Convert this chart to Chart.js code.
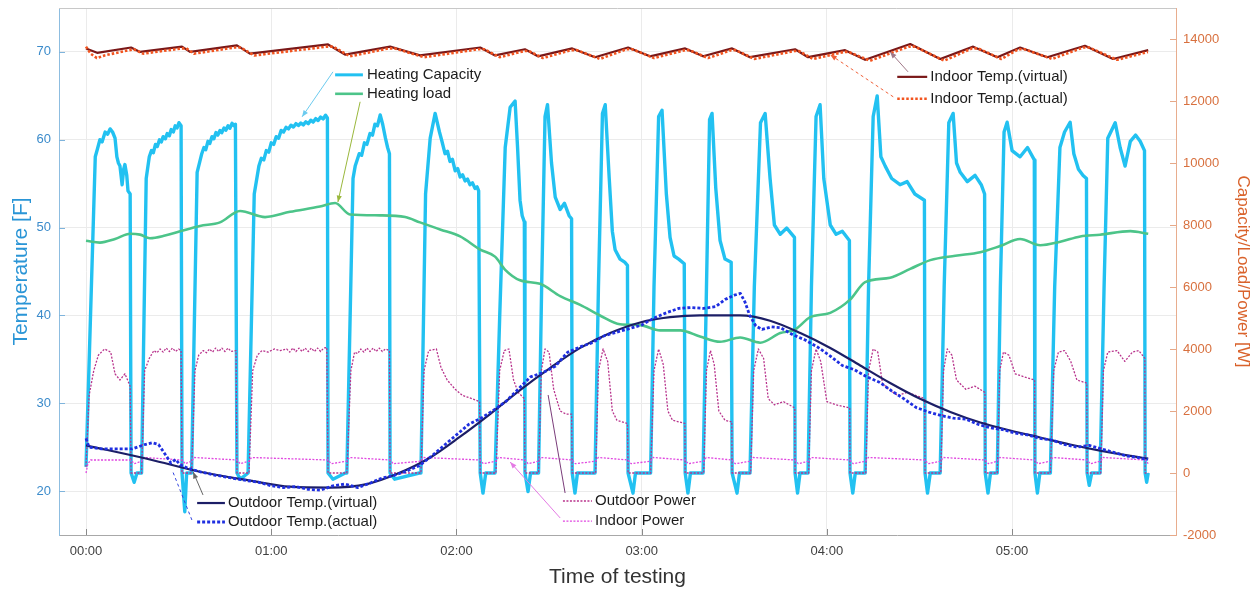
<!DOCTYPE html>
<html>
<head>
<meta charset="utf-8">
<script src="https://cdn.jsdelivr.net/npm/chart.js@4.4.1/dist/chart.umd.min.js"></script>
<style>
html,body{margin:0;padding:0;background:#fff;}
canvas{display:block;}
</style>
</head>
<body>
<canvas id="c" width="1256" height="592" style="width:1256px;height:592px"></canvas>
<script>
// ---------------- DATA (time in minutes from 00:00) ----------------
const timeTicks = [0, 60, 120, 180, 240, 300];
const timeLabels = ['00:00', '01:00', '02:00', '03:00', '04:00', '05:00'];
const tempTicks = [20, 30, 40, 50, 60, 70];
const powerTicks = [-2000, 0, 2000, 4000, 6000, 8000, 10000, 12000, 14000];

// Heating Capacity [W]
const heatingCapacity = [
 [0,200],[3.0,10200],[3.7,10450],[4.5,10750],[5.2,10680],[6.2,11000],[7.0,10930],[7.8,11100],[8.6,11000],[9.4,10800],[10.0,10200],[10.5,10000],[11.0,9900],[11.7,9300],[12.2,9800],[12.6,9950],[13.2,9600],[13.6,9100],[14.3,9000],[14.6,0],[15.6,-300],[16.5,0],[17.5,0],
 [18.0,0],[19.5,9500],[20.5,10200],[21.2,10400],[21.8,10330],[22.5,10600],[23.1,10530],[23.8,10750],[24.4,10680],[25.0,10850],[25.7,10780],[26.3,10950],[27.0,10880],[27.6,11080],[28.3,11000],[28.9,11200],[29.5,11130],[30.1,11300],[30.8,11200],[31.1,0],[32.0,-1250],[32.6,0],[33.7,0],
 [34.2,0],[36.0,9700],[37.5,10300],[38.2,10500],[38.8,10430],[39.5,10700],[40.1,10630],[40.8,10850],[41.4,10780],[42.1,10980],[42.7,10900],[43.4,11050],[44.0,10980],[44.7,11130],[45.3,11060],[46.0,11200],[46.6,11120],[47.3,11280],[47.9,11200],[48.4,11250],[48.9,0],[50.0,-200],[52.5,0],
 [52.8,0],[54.5,9000],[56.0,9900],[56.8,10150],[57.6,10100],[58.4,10400],[59.2,10350],[60.0,10650],[60.8,10600],[61.6,10850],[62.4,10800],[63.2,11050],[64.0,11000],[64.8,11150],[65.6,11100],[66.4,11220],[67.2,11160],[68.0,11270],[68.8,11210],[69.6,11290],[70.4,11230],[71.2,11330],[72.0,11270],[72.8,11380],[73.6,11320],[74.4,11430],[75.2,11370],[76.0,11480],[76.8,11420],[77.6,11540],[78.2,11450],[78.4,0],[80.0,-200],[84.0,0],
 [84.5,0],[86.5,9500],[87.2,9900],[88.5,10300],[89.3,10250],[90.2,10650],[91.0,10600],[92.0,10950],[92.8,10900],[93.6,11250],[94.4,11200],[95.3,11550],[96.1,11250],[97.0,10800],[97.7,10500],[98.3,10300],[98.5,0],[100.0,-200],[108.0,0],
 [108.5,0],[110.0,9000],[111.5,10800],[113.1,11600],[114.5,11000],[115.3,10700],[116.3,10300],[117.1,10380],[117.9,10050],[118.7,10120],[119.6,9750],[120.4,9820],[121.2,9550],[122.0,9620],[122.8,9420],[123.6,9480],[124.4,9300],[125.2,9360],[126.0,9180],[126.7,9230],[127.2,9100],[127.7,0],[128.6,-650],[129.5,0],[132.5,0],
 [132.8,0],[134.0,5000],[135.8,10500],[137.4,11800],[139.0,12000],[139.8,10500],[140.6,8800],[141.3,8300],[142.0,8100],[142.2,0],[143.2,-600],[144.0,0],[146.4,0],
 [146.6,0],[147.6,6000],[148.7,11500],[149.5,11880],[150.8,10000],[152.0,8900],[153.6,8500],[155.0,8700],[156.5,8300],[157.3,8200],[157.5,0],[158.4,-650],[159.2,0],[164.9,0],
 [165.1,0],[166.0,6000],[167.3,11600],[168.2,11880],[169.5,9500],[170.5,7800],[171.4,7200],[173.0,6900],[174.5,6800],[175.4,6700],[175.6,0],[177.2,-650],[178.0,0],[182.7,0],
 [182.9,0],[184.0,6000],[185.5,11500],[186.6,11700],[188.0,9000],[189.2,7600],[190.5,7000],[192.0,6900],[193.8,6750],[194.1,0],[195.0,-650],[195.8,0],[199.9,0],
 [200.1,0],[201.0,6000],[202.0,11400],[202.8,11600],[204.0,9200],[205.4,7500],[207.0,6900],[209.0,6800],[209.3,0],[210.9,-650],[211.7,0],[215.1,0],
 [215.3,0],[216.5,6000],[218.5,11300],[220.0,11600],[221.6,9500],[223.0,8000],[224.9,7700],[227.0,7900],[229.5,7600],[229.7,0],[230.5,-650],[231.3,0],[233.9,0],
 [234.1,0],[235.0,6000],[236.5,11500],[237.8,11880],[239.0,9500],[241.1,8000],[243.0,7700],[245.0,7800],[247.3,7500],[247.5,0],[248.4,-650],[249.2,0],[252.4,0],
 [252.6,0],[253.5,6000],[255.0,11500],[256.3,12165],[257.5,10200],[258.9,9900],[261.0,9500],[263.7,9300],[266.0,9400],[268.5,9000],[271.6,8800],[271.8,0],[272.6,-650],[273.5,0],[276.7,0],
 [276.9,0],[278.0,6000],[279.5,11300],[280.9,11600],[282.0,10000],[283.2,9700],[285.5,9400],[288.0,9600],[290.0,9300],[291.1,9000],[291.3,0],[292.2,-650],[293.0,0],[295.0,0],
 [295.2,0],[296.2,6000],[297.4,11000],[298.4,11315],[300.0,10400],[302.6,10200],[305.0,10500],[307.2,10100],[307.4,0],[308.2,-650],[309.0,0],[312.2,0],
 [312.4,0],[313.8,6000],[315.5,10500],[317.0,11000],[318.8,11315],[320.0,10300],[321.5,9800],[323.0,9600],[324.1,9500],[324.3,0],[325.0,-400],[325.8,0],[328.5,0],
 [328.7,0],[329.8,6000],[331.0,10800],[333.4,11300],[335.0,10500],[336.6,9900],[338.3,10700],[340.0,10900],[341.5,10700],[342.9,10400],[343.1,0],[343.6,-300],[344.1,0]
];

// Heating load [W]
const heatingLoad = [
 [0,7490],[4.5,7433],[9.4,7547],[14.3,7717],[17.5,7690],[20.7,7575],[25.6,7660],[30.5,7800],[36.9,7970],[43.4,8085],
 [49.9,8453],[58.0,8255],[66.1,8425],[75.8,8595],[80.7,8708],[85.5,8340],[95.3,8312],[103.4,8255],[108.2,8085],[114.7,7858],
 [121.2,7632],[127.7,7207],[132.5,6980],[135.8,6555],[140.6,6215],[147.1,6102],[153.6,5705],[160.1,5422],[166.5,5082],[173.0,4799],
 [179.5,4770],[186.0,4600],[192.5,4600],[198.9,4402],[205.4,4232],[211.9,4373],[218.4,4204],[224.9,4515],[229.7,4629],[234.6,5026],
 [241.1,5167],[247.5,5592],[252.4,6159],[260.5,6300],[267.0,6583],[273.5,6867],[281.6,7008],[289.7,7122],[296.1,7320],[302.6,7547],
 [309.1,7348],[315.6,7462],[322.1,7632],[328.5,7688],[338.3,7802],[344.1,7717]
];

// Indoor Temp. [F]
const indoorVirtual = [
 [0,70.4],[3.6,69.9],[14.6,70.5],[17.5,70.0],[31.1,70.6],[33.7,70.0],[48.9,70.75],[53.1,69.8],[78.4,70.85],[83.9,69.7],
 [98.5,70.6],[108.2,69.6],[127.7,70.5],[132.5,69.6],[142.2,70.3],[146.4,69.5],[157.5,70.4],[164.9,69.4],[175.6,70.5],[182.7,69.5],
 [194.1,70.4],[199.9,69.5],[209.3,70.4],[215.1,69.4],[229.7,70.3],[233.9,69.4],[245.9,70.2],[252.4,69.1],[267.0,70.9],[276.7,69.2],
 [287.4,70.6],[295.2,69.4],[302.6,70.5],[311.4,69.4],[323.6,70.7],[332.7,69.2],[344.1,70.2]
];
const indoorActual = [
 [0,70.6],[1.5,69.8],[3.5,69.3],[6,69.6],[14,70.2],[15.5,70.3],[18.5,69.8],[31,70.4],[32.5,70.4],[35,69.8],
 [48,70.5],[50,70.5],[54.5,69.6],[78,70.6],[80,70.6],[85.5,69.5],[98,70.4],[100,70.4],[109.5,69.4],[127,70.3],
 [129,70.3],[134,69.4],[142,70.1],[143.5,70.1],[148,69.3],[157,70.2],[159,70.2],[166.5,69.2],[175,70.3],[177,70.3],
 [184,69.3],[194,70.2],[195.5,70.2],[201.5,69.3],[209,70.2],[210.5,70.2],[216.5,69.2],[229.5,70.1],[231,70.1],[235.5,69.2],
 [245.5,70.0],[247,70.0],[254,69.0],[266.5,70.6],[268.5,70.6],[278,69.0],[287,70.4],[289,70.4],[296.5,69.2],[302,70.3],
 [304,70.3],[313,69.2],[323,70.5],[325,70.5],[334,69.1],[344,70.0]
];

// Outdoor Temp. [F]
const outdoorVirtual = [
 [0,25.2],[20.7,23.6],[36.9,22.2],[53.1,21.2],[66.1,20.5],[79.0,20.4],[91.0,20.8],[101.0,22.0],[111.4,23.8],[121.2,26.2],
 [131.0,28.8],[140.6,31.5],[150.3,34.0],[160.1,36.3],[169.8,38.0],[179.5,39.2],[189.2,39.8],[198.9,40.0],[211.9,40.0],[221.6,39.4],
 [231.4,38.0],[241.1,36.3],[250.8,34.3],[260.5,32.3],[270.2,30.5],[280.0,29.0],[289.7,27.8],[299.4,26.9],[309.1,26.1],[318.8,25.3],
 [328.5,24.6],[338.3,24.0],[344.1,23.7]
];
const outdoorActual = [
 [0,26.0],[1,25.0],[5,24.8],[15,24.8],[19,25.3],[21.5,25.5],[23.5,25.3],[26,24.0],[27.5,23.2],[29,23.6],
 [30.5,23.0],[33,22.6],[37,22.2],[42,21.8],[47,21.5],[52,21.2],[56,21.0],[60,20.6],[64,20.4],[68,20.5],
 [72,20.2],[76,20.1],[80,20.6],[84,20.8],[88,20.4],[92,20.9],[96,21.5],[100,21.8],[104,22.3],[108,22.9],
 [112,24.0],[116,25.2],[120,26.4],[124,27.6],[128,28.3],[132,29.2],[136,30.2],[140,31.6],[144,33.0],[148,33.5],
 [152,34.2],[156,35.8],[160,36.4],[164,36.9],[168,37.7],[172,38.1],[176,38.5],[180,38.9],[184,39.7],[188,40.3],
 [192,40.8],[196,40.9],[200,40.8],[204,41.0],[207,41.8],[210,42.3],[212,42.5],[213.5,41.5],[215,40.0],[217,38.8],
 [219,38.4],[222,38.7],[225,38.6],[229,37.8],[233,37.2],[237,36.4],[241,35.4],[245,34.3],[249,33.8],[253,33.0],
 [257,32.4],[261,31.4],[265,30.5],[269,29.5],[273,29.0],[277,28.6],[281,28.3],[285,28.2],[289,27.6],[293,27.2],
 [297,27.0],[301,26.6],[305,26.4],[309,26.0],[313,25.8],[317,25.3],[321,25.0],[325,25.2],[329,24.8],[333,24.4],
 [337,24.0],[341,23.8],[344,23.6]
];

// Outdoor Power [W]
const outdoorPower = [
 [0,200],[1.0,2500],[2.5,3300],[4.0,3800],[6.0,4000],[8.0,3900],[9.4,3200],[11.0,3000],[12.6,3200],[14.3,2800],[14.6,0],[17.5,0],
 [18.0,0],[19.0,3300],[20.5,3700],[22.0,3950],[23.0,3880],[24.0,4000],[25.0,3900],[26.0,4030],[27.0,3920],[28.0,4030],[29.0,3920],[30.0,4000],[30.8,3950],[31.1,0],[33.7,0],
 [34.2,0],[35.3,3300],[36.5,3800],[38.0,3950],[39.0,3880],[40.0,4000],[41.0,3900],[42.0,4030],[43.0,3920],[44.0,4030],[45.0,3920],[46.0,4030],[47.0,3920],[48.6,3950],[48.9,0],[52.5,0],
 [52.8,0],[54.0,3300],[55.5,3800],[57.0,3950],[59.0,3900],[61.0,4000],[63.0,3950],[65.0,4000],[66.0,3900],[67.0,4030],[68.0,3920],[69.0,4030],[70.0,3920],[71.0,4030],[72.0,3920],[73.0,4030],[74.0,3920],[75.0,4030],[76.0,3920],[77.0,4030],[78.0,4050],[78.4,0],[84.0,0],
 [84.5,0],[85.8,3300],[87.0,3900],[88.0,3850],[89.0,4000],[90.0,3900],[91.0,4030],[92.0,3920],[93.0,4030],[94.0,3920],[95.0,4030],[96.0,3920],[97.0,4000],[98.3,3950],[98.5,0],[108.0,0],
 [108.5,0],[109.5,3300],[111.0,3950],[113.5,4000],[115.0,3400],[117.0,3000],[119.6,2700],[122.0,2500],[125.0,2400],[127.5,2300],[127.7,0],[132.5,0],
 [132.8,0],[134.0,3300],[135.5,3950],[137.0,4000],[138.5,3000],[140.0,2600],[142.0,2400],[142.2,0],[146.4,0],
 [146.6,0],[147.5,3300],[148.7,4000],[150.0,3900],[151.5,2700],[153.6,2000],[155.5,1900],[157.3,1900],[157.5,0],[164.9,0],
 [165.1,0],[166.0,3300],[167.5,4000],[169.0,3600],[170.5,2000],[172.0,1700],[175.4,1600],[175.6,0],[182.7,0],
 [182.9,0],[184.0,3300],[185.5,4000],[187.0,3500],[188.5,2000],[190.0,1700],[194.0,1600],[194.1,0],[199.9,0],
 [200.1,0],[201.0,3300],[202.3,3950],[203.5,3500],[205.0,2000],[207.0,1700],[209.2,1650],[209.3,0],[215.1,0],
 [215.3,0],[216.3,3300],[217.8,4000],[219.5,3700],[221.0,2400],[223.0,2200],[226.0,2300],[229.6,2100],[229.7,0],[233.9,0],
 [234.1,0],[235.0,3300],[236.5,4000],[238.0,3600],[240.0,2300],[243.0,2200],[247.4,2100],[247.5,0],[252.4,0],
 [252.6,0],[253.5,3300],[255.0,4000],[256.5,3900],[258.0,2900],[260.0,2700],[263.0,2500],[266.0,2600],[271.7,2400],[271.8,0],[276.7,0],
 [276.9,0],[277.8,3300],[279.0,4000],[280.5,3800],[282.0,3000],[285.0,2700],[288.0,2800],[291.2,2600],[291.3,0],[295.0,0],
 [295.2,0],[296.0,3300],[297.2,3900],[299.0,3800],[301.0,3200],[304.0,3100],[307.3,3000],[307.4,0],[312.2,0],
 [312.4,0],[313.5,3300],[315.0,3900],[317.0,3950],[319.0,3600],[321.0,3000],[324.2,2900],[324.3,0],[328.5,0],
 [328.7,0],[329.6,3300],[331.0,3900],[334.0,3950],[336.5,3600],[339.0,3900],[341.0,3950],[343.0,3700],[343.1,0],[344.1,0]
];

// Indoor Power [W]
const indoorPower = [
 [0,0],[0.6,300],[1.5,420],
 [14.6,420],[15.6,300],[18.0,380],[18.8,500],[31.1,420],[32.1,300],[34.2,380],[35.0,500],
 [48.9,420],[49.9,300],[52.8,380],[53.6,500],[78.4,420],[79.4,300],[84.5,380],[85.3,500],
 [98.5,420],[99.5,300],[108.5,380],[109.3,500],[127.7,420],[128.7,300],[132.8,380],[133.6,500],
 [142.2,420],[143.2,300],[146.6,380],[147.4,500],[157.5,420],[158.5,300],[165.1,380],[165.9,500],
 [175.6,420],[176.6,300],[182.9,380],[183.7,500],[194.1,420],[195.1,300],[200.1,380],[200.9,500],
 [209.3,420],[210.3,300],[215.3,380],[216.1,500],[229.7,420],[230.7,300],[234.1,380],[234.9,500],
 [247.5,420],[248.5,300],[252.6,380],[253.4,500],[271.8,420],[272.8,300],[276.9,380],[277.7,500],
 [291.3,420],[292.3,300],[295.2,380],[296.0,500],[307.4,420],[308.4,300],[312.4,380],[313.2,500],
 [324.3,420],[325.3,300],[328.7,380],[329.5,500],[343.1,420],[344.1,300]
];

// ---------------- annotation layout (data coords: minutes, left axis F) ----------------
const legendNotes = [
  {text:'Heating Capacity', ds:7, t0:80.7, t1:89.7, tt:91.0, f:67.39},
  {text:'Heating load', ds:6, t0:80.7, t1:89.7, tt:91.0, f:65.23},
  {text:'Indoor Temp.(virtual)', ds:1, t0:262.8, t1:272.5, tt:273.5, f:67.16},
  {text:'Indoor Temp.(actual)', ds:0, t0:262.8, t1:272.5, tt:273.5, f:64.66},
  {text:'Outdoor Temp.(virtual)', ds:3, t0:36.0, t1:45.0, tt:46.0, f:18.64},
  {text:'Outdoor Temp.(actual)', ds:2, t0:36.0, t1:45.0, tt:46.0, f:16.48},
  {text:'Outdoor Power', ds:5, t0:154.5, t1:163.9, tt:164.9, f:18.87},
  {text:'Indoor Power', ds:4, t0:154.5, t1:163.9, tt:164.9, f:16.59}
];
const arrowNotes = [
  {from:[80.0,67.73], to:[70.0,62.61], color:'#6ccbef', dash:[], head:true},
  {from:[88.8,64.32], to:[81.6,52.9], color:'#9ab83c', dash:[], head:true},
  {from:[266.3,67.73], to:[260.5,70.0], color:'#a07888', dash:[], head:true},
  {from:[261.5,64.89], to:[241.1,69.67], color:'#f06038', dash:[3,3], head:true},
  {from:[37.9,19.56], to:[34.7,22.18], color:'#666666', dash:[], head:true},
  {from:[34.3,16.71], to:[27.9,22.4], color:'#3344e0', dash:[3,3], head:false},
  {from:[155.2,19.78], to:[149.7,30.94], color:'#7a3c7a', dash:[], head:false},
  {from:[153.6,16.94], to:[137.4,23.31], color:'#e47ae4', dash:[], head:true}
];

// ---------------- chart ----------------
const FONT = "'Liberation Sans', Arial, Helvetica, sans-serif";
Chart.defaults.font.family = FONT;

const toXY = arr => arr.map(p => ({x: p[0], y: p[1]}));

const datasets = [
  {label:'Indoor Temp.(actual)', data:toXY(indoorActual), yAxisID:'y', borderColor:'#f2541f', borderWidth:2.6, borderDash:[2.5,2]},
  {label:'Indoor Temp.(virtual)', data:toXY(indoorVirtual), yAxisID:'y', borderColor:'#7a1818', borderWidth:2.2, borderDash:[]},
  {label:'Outdoor Temp.(actual)', data:toXY(outdoorActual), yAxisID:'y', borderColor:'#1f2fe0', borderWidth:2.8, borderDash:[3,2]},
  {label:'Outdoor Temp.(virtual)', data:toXY(outdoorVirtual), yAxisID:'y', borderColor:'#1c1e66', borderWidth:2.2, borderDash:[], cubicInterpolationMode:'monotone'},
  {label:'Indoor Power', data:toXY(indoorPower), yAxisID:'y2', borderColor:'#e046e0', borderWidth:1.3, borderDash:[2,1.5]},
  {label:'Outdoor Power', data:toXY(outdoorPower), yAxisID:'y2', borderColor:'#b8338c', borderWidth:1.3, borderDash:[2,1.5]},
  {label:'Heating load', data:toXY(heatingLoad), yAxisID:'y2', borderColor:'#4cc489', borderWidth:2.6, borderDash:[], cubicInterpolationMode:'monotone'},
  {label:'Heating Capacity', data:toXY(heatingCapacity), yAxisID:'y2', borderColor:'#22c1f1', borderWidth:3.4, borderDash:[]}
];
datasets.forEach(d => { d.pointRadius = 0; d.fill = false; d.tension = 0; d.borderJoinStyle = 'round'; });

const bgPlugin = {
  id:'bg',
  beforeDraw(chart){
    const c = chart.ctx; c.save(); c.fillStyle = '#ffffff'; c.fillRect(0,0,chart.width,chart.height); c.restore();
  },
  beforeDatasetsDraw(chart){
    const {ctx, chartArea:a, scales} = chart;
    ctx.save();
    ctx.lineWidth = 1;
    ctx.strokeStyle = '#c8c8c8';
    ctx.beginPath(); ctx.moveTo(a.left, a.top+0.5); ctx.lineTo(a.right, a.top+0.5); ctx.stroke();
    ctx.strokeStyle = '#8a8a8a';
    timeTicks.forEach(v => { const px = Math.round(scales.x.getPixelForValue(v))+0.5;
      ctx.beginPath(); ctx.moveTo(px, a.bottom); ctx.lineTo(px, a.bottom-6); ctx.stroke(); });
    ctx.strokeStyle = '#7fb4dc';
    tempTicks.forEach(v => { const py = Math.round(scales.y.getPixelForValue(v))+0.5;
      ctx.beginPath(); ctx.moveTo(a.left, py); ctx.lineTo(a.left+6, py); ctx.stroke(); });
    ctx.strokeStyle = '#e6a888';
    powerTicks.forEach(v => { const py = Math.round(scales.y2.getPixelForValue(v))+0.5;
      ctx.beginPath(); ctx.moveTo(a.right, py); ctx.lineTo(a.right-6, py); ctx.stroke(); });
    ctx.restore();
  },
  afterDatasetsDraw(chart){
    const {ctx, scales} = chart;
    const X = t => scales.x.getPixelForValue(t);
    const Y = f => scales.y.getPixelForValue(f);
    ctx.save();
    arrowNotes.forEach(a => {
      const x0 = X(a.from[0]), y0 = Y(a.from[1]), x1 = X(a.to[0]), y1 = Y(a.to[1]);
      ctx.strokeStyle = a.color; ctx.lineWidth = 1; ctx.setLineDash(a.dash);
      ctx.beginPath(); ctx.moveTo(x0,y0); ctx.lineTo(x1,y1); ctx.stroke();
      ctx.setLineDash([]);
      if (a.head) {
        const ang = Math.atan2(y1-y0, x1-x0), L = 7, w = 0.38;
        ctx.fillStyle = a.color;
        ctx.beginPath(); ctx.moveTo(x1,y1);
        ctx.lineTo(x1 - L*Math.cos(ang-w), y1 - L*Math.sin(ang-w));
        ctx.lineTo(x1 - L*Math.cos(ang+w), y1 - L*Math.sin(ang+w));
        ctx.closePath(); ctx.fill();
      }
    });
    ctx.font = '15px ' + FONT; ctx.textBaseline = 'middle'; ctx.textAlign = 'left';
    legendNotes.forEach(n => {
      const ds = chart.data.datasets[n.ds];
      const y = Y(n.f);
      ctx.strokeStyle = ds.borderColor; ctx.lineWidth = Math.min(ds.borderWidth, 3); ctx.setLineDash(ds.borderDash || []);
      ctx.beginPath(); ctx.moveTo(X(n.t0), y); ctx.lineTo(X(n.t1), y); ctx.stroke();
      ctx.setLineDash([]);
      ctx.fillStyle = '#1c1c1c';
      ctx.fillText(n.text, X(n.tt), y);
    });
    ctx.restore();
  }
};

new Chart(document.getElementById('c'), {
  type:'line',
  data:{datasets},
  options:{
    responsive:false, animation:false, devicePixelRatio:1,
    layout:{padding:{top:8, left:0, right:0, bottom:0}},
    plugins:{legend:{display:false}, tooltip:{enabled:false}},
    scales:{
      x:{
        type:'linear', min:-8.75, max:353.1,
        afterBuildTicks: s => { s.ticks = timeTicks.map(v => ({value:v})); },
        afterFit: s => { s.height = 57; s.paddingLeft = 0; s.paddingRight = 0; },
        ticks:{ callback: v => timeLabels[timeTicks.indexOf(v)], color:'#404040', font:{size:13}, padding:9, maxRotation:0, autoSkip:false },
        grid:{ color:'#ebebeb', drawTicks:false, lineWidth:1 },
        border:{ color:'#a8a8a8', width:1 },
        title:{ display:true, text:'Time of testing', color:'#333333', font:{size:21}, padding:{top:0, bottom:2} }
      },
      y:{
        type:'linear', position:'left', min:15, max:75,
        afterBuildTicks: s => { s.ticks = tempTicks.map(v => ({value:v})); },
        afterFit: s => { s.width = 59; s.paddingTop = 0; s.paddingBottom = 0; },
        ticks:{ color:'#3b8bcb', font:{size:13}, padding:8, callback: v => String(v) },
        grid:{ color:'#ebebeb', drawTicks:false, lineWidth:1 },
        border:{ color:'#8dbde0', width:1 },
        title:{ display:true, text:'Temperature [F]', color:'#2a95d6', font:{size:21}, padding:{top:9, bottom:0} }
      },
      y2:{
        type:'linear', position:'right', min:-2000, max:15000,
        afterBuildTicks: s => { s.ticks = powerTicks.map(v => ({value:v})); },
        afterFit: s => { s.width = 80; s.paddingTop = 0; s.paddingBottom = 0; },
        ticks:{ color:'#d8703e', font:{size:13}, padding:7, callback: v => String(v) },
        grid:{ drawOnChartArea:false, drawTicks:false },
        border:{ color:'#e8ad8e', width:1 },
        title:{ display:true, text:'Capacity/Load/Power [W]', color:'#d9622b', font:{size:17}, padding:{top:3, bottom:0} }
      }
    }
  },
  plugins:[bgPlugin]
});
</script>
</body>
</html>
